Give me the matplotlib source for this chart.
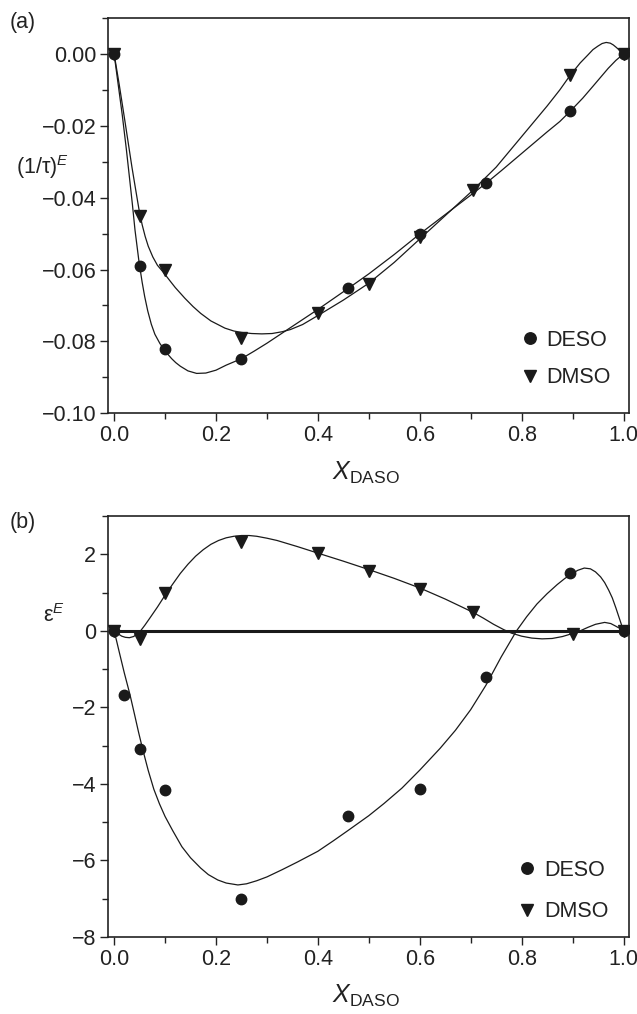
import matplotlib
matplotlib.use("Agg")
import matplotlib.pyplot as plt
from matplotlib.ticker import MultipleLocator, FuncFormatter

plt.rcParams['font.family'] = ['Liberation Sans', 'DejaVu Sans']
plt.rcParams['mathtext.fontset'] = 'custom'
plt.rcParams['mathtext.rm'] = 'Liberation Sans'
plt.rcParams['mathtext.it'] = 'Liberation Sans:italic'
plt.rcParams['mathtext.bf'] = 'Liberation Sans:bold'

# ---------------- Panel (a): (1/tau)^E ----------------
a_deso_x = [0.0, 0.05, 0.10, 0.25, 0.46, 0.60, 0.73, 0.895, 1.0]
a_deso_y = [0.0, -0.059, -0.082, -0.085, -0.065, -0.050, -0.036, -0.016, 0.0]
a_dmso_x = [0.0, 0.05, 0.10, 0.25, 0.40, 0.50, 0.60, 0.705, 0.895, 1.0]
a_dmso_y = [0.0, -0.045, -0.060, -0.079, -0.072, -0.064, -0.051, -0.038, -0.006, 0.0]

a_deso_fit_x = [0.0, 0.008, 0.016, 0.024, 0.031, 0.036, 0.041, 0.045, 0.049, 0.055, 0.060,
                0.066, 0.073, 0.080, 0.090, 0.098, 0.105, 0.113, 0.121, 0.130, 0.145,
                0.162, 0.180, 0.200, 0.220, 0.235, 0.250, 0.275, 0.300, 0.350, 0.400,
                0.460, 0.500, 0.550, 0.600, 0.650, 0.700, 0.730, 0.760, 0.800, 0.850,
                0.875, 0.895, 0.920, 0.940, 0.955, 0.970, 0.985, 1.0]
a_deso_fit_y = [0.0, -0.0085, -0.0170, -0.0265, -0.0355, -0.0420, -0.0490, -0.0535, -0.0580,
                -0.0635, -0.0675, -0.0715, -0.0752, -0.0780, -0.0806, -0.0822, -0.0835,
                -0.0848, -0.0859, -0.0869, -0.0882, -0.0889, -0.0888, -0.0880, -0.0866,
                -0.0857, -0.0848, -0.0827, -0.0805, -0.0758, -0.0711, -0.0652, -0.0612,
                -0.0558, -0.0501, -0.0447, -0.0393, -0.0360, -0.0325, -0.0277, -0.0217,
                -0.0188, -0.0160, -0.0123, -0.0090, -0.0065, -0.0040, -0.0018, 0.0]
a_dmso_fit_x = [0.0, 0.010, 0.021, 0.028, 0.035, 0.042, 0.0485, 0.055, 0.061, 0.067, 0.076,
                0.085, 0.098, 0.110, 0.120, 0.139, 0.155, 0.170, 0.190, 0.2175, 0.235,
                0.250, 0.270, 0.290, 0.310, 0.330, 0.346, 0.370, 0.400, 0.450, 0.500,
                0.550, 0.600, 0.650, 0.700, 0.750, 0.800, 0.850, 0.875, 0.895, 0.915,
                0.930, 0.940, 0.950, 0.958, 0.966, 0.974, 0.980, 0.986, 0.993, 1.0]
a_dmso_fit_y = [0.0, -0.0085, -0.0185, -0.0250, -0.0315, -0.0375, -0.0430, -0.0475, -0.0508,
                -0.0535, -0.0565, -0.0588, -0.0610, -0.0632, -0.0650, -0.0680, -0.0703,
                -0.0722, -0.0743, -0.0763, -0.0771, -0.0775, -0.0778, -0.0779, -0.0778,
                -0.0773, -0.0767, -0.0753, -0.0728, -0.0685, -0.0638, -0.0580, -0.0515,
                -0.0450, -0.0385, -0.0315, -0.0230, -0.0145, -0.0100, -0.0060, -0.0025,
                -0.0003, 0.0012, 0.0022, 0.0029, 0.0032, 0.0030, 0.0025, 0.0018, 0.0009, 0.0]

# ---------------- Panel (b): eps^E ----------------
b_deso_x = [0.0, 0.02, 0.05, 0.10, 0.25, 0.46, 0.60, 0.73, 0.895, 1.0]
b_deso_y = [0.0, -1.68, -3.08, -4.17, -7.0, -4.83, -4.12, -1.21, 1.52, 0.0]
b_dmso_x = [0.0, 0.05, 0.10, 0.25, 0.40, 0.50, 0.60, 0.705, 0.90, 1.0]
b_dmso_y = [0.0, -0.21, 1.0, 2.33, 2.03, 1.57, 1.08, 0.48, -0.08, 0.0]

b_deso_fit_x = [0.0, 0.005, 0.010, 0.020, 0.031, 0.040, 0.048, 0.056, 0.067, 0.078, 0.089,
                0.100, 0.115, 0.133, 0.150, 0.170, 0.185, 0.2035, 0.220, 0.243, 0.260,
                0.280, 0.300, 0.330, 0.360, 0.400, 0.430, 0.460, 0.500, 0.530, 0.565,
                0.600, 0.640, 0.670, 0.700, 0.730, 0.760, 0.790, 0.810, 0.830, 0.850,
                0.870, 0.885, 0.900, 0.910, 0.923, 0.935, 0.945, 0.955, 0.963, 0.971,
                0.978, 0.985, 0.992, 1.0]
b_deso_fit_y = [0.0, -0.27, -0.55, -1.10, -1.66, -2.18, -2.65, -3.09, -3.65, -4.14, -4.52,
                -4.85, -5.22, -5.64, -5.93, -6.20, -6.37, -6.51, -6.59, -6.64, -6.61,
                -6.53, -6.43, -6.24, -6.04, -5.76, -5.49, -5.21, -4.83, -4.51, -4.11,
                -3.64, -3.07, -2.60, -2.06, -1.42, -0.68, 0.0, 0.37, 0.70, 0.97,
                1.21, 1.37, 1.50, 1.58, 1.64, 1.62, 1.54, 1.41, 1.26, 1.06,
                0.86, 0.60, 0.32, 0.0]
b_dmso_fit_x = [0.0, 0.008, 0.015, 0.022, 0.030, 0.038, 0.045, 0.052, 0.060, 0.070, 0.085,
                0.100, 0.115, 0.130, 0.145, 0.160, 0.175, 0.190, 0.205, 0.220, 0.235,
                0.250, 0.265, 0.280, 0.300, 0.320, 0.360, 0.400, 0.450, 0.500, 0.550,
                0.600, 0.650, 0.680, 0.705, 0.725, 0.745, 0.765, 0.780, 0.800, 0.820,
                0.840, 0.860, 0.880, 0.900, 0.915, 0.930, 0.945, 0.963, 0.975, 0.985,
                0.993, 1.0]
b_dmso_fit_y = [0.0, -0.08, -0.14, -0.17, -0.18, -0.15, -0.09, 0.0, 0.14, 0.33, 0.62,
                0.93, 1.22, 1.50, 1.74, 1.95, 2.12, 2.26, 2.36, 2.43, 2.47,
                2.49, 2.49, 2.47, 2.42, 2.36, 2.20, 2.03, 1.82, 1.60, 1.37,
                1.12, 0.83, 0.64, 0.48, 0.33, 0.17, 0.03, -0.06, -0.14, -0.19,
                -0.21, -0.20, -0.15, -0.07, 0.0, 0.09, 0.17, 0.22, 0.19, 0.12,
                0.06, 0.0]

labels = ["DESO", "DMSO"]

FS = 15.5
W, H = 637, 1014
fig = plt.figure(figsize=(W / 100, H / 100), dpi=100)

ax1 = fig.add_axes([108 / W, 1 - 413.3 / H, 520.6 / W, 395.3 / H])
ax2 = fig.add_axes([108 / W, 1 - 937 / H, 520.6 / W, 421 / H])


def make_fmt(nd):
    def f(v, pos):
        if abs(v) < 1e-9:
            v = 0.0
        return (f'{v:.{nd}f}').replace('-', '\u2212')
    return FuncFormatter(f)


def style(ax, ymajor, yminor, nd):
    ax.set_xlim(-0.012, 1.01)
    ax.xaxis.set_major_locator(MultipleLocator(0.2))
    ax.xaxis.set_minor_locator(MultipleLocator(0.1))
    ax.xaxis.set_major_formatter(make_fmt(1))
    ax.yaxis.set_major_locator(MultipleLocator(ymajor))
    ax.yaxis.set_minor_locator(MultipleLocator(yminor))
    ax.yaxis.set_major_formatter(make_fmt(nd))
    ax.tick_params(which='both', direction='out', top=False, right=False,
                   labelsize=FS, width=1.0, color='#222222', labelcolor='#222222')
    ax.tick_params(which='major', length=6, pad=2.5)
    ax.tick_params(which='minor', length=4)
    for s in ax.spines.values():
        s.set_linewidth(1.2)
        s.set_color('#222222')


style(ax1, 0.02, 0.01, 2)
ax1.set_ylim(-0.10, 0.01)
style(ax2, 2, 1, 0)
ax2.set_ylim(-8, 3)

lc = '#1a1a1a'
ms_c, ms_t = 7.5, 8.5

# panel a
ax1.plot(a_deso_fit_x, a_deso_fit_y, color=lc, lw=0.9, zorder=2)
ax1.plot(a_dmso_fit_x, a_dmso_fit_y, color=lc, lw=0.9, zorder=2)
h1, = ax1.plot(a_deso_x, a_deso_y, 'o', color=lc, ms=ms_c, zorder=3, label=labels[0])
h2, = ax1.plot(a_dmso_x, a_dmso_y, 'v', color=lc, ms=ms_t, zorder=3, label=labels[1])

# panel b
xmax2 = ax2.get_xlim()[1]
ax2.hlines(0, 0, xmax2, color=lc, lw=2.2, zorder=1)
ax2.plot(b_deso_fit_x, b_deso_fit_y, color=lc, lw=0.9, zorder=2)
ax2.plot(b_dmso_fit_x, b_dmso_fit_y, color=lc, lw=0.9, zorder=2)
g1, = ax2.plot(b_deso_x, b_deso_y, 'o', color=lc, ms=ms_c, zorder=3, label=labels[0])
g2, = ax2.plot(b_dmso_x, b_dmso_y, 'v', color=lc, ms=ms_t, zorder=3, label=labels[1])

leg_kw = dict(frameon=False, fontsize=FS, handlelength=1.0, handletextpad=0.27,
              borderpad=0, borderaxespad=0, markerscale=1.1, numpoints=1,
              loc='upper left', labelcolor='#222222')
ax1.legend(handles=[h1, h2], labelspacing=0.76, bbox_to_anchor=(0.789, 0.211), **leg_kw)
ax2.legend(handles=[g1, g2], labelspacing=0.95, bbox_to_anchor=(0.785, 0.1835), **leg_kw)

# labels
tc = '#222222'
fig.text(10 / W, 1 - 28 / H, '(a)', fontsize=FS, va='baseline', ha='left', color=tc)
fig.text(10 / W, 1 - 528 / H, '(b)', fontsize=FS, va='baseline', ha='left', color=tc)
fig.text(16 / W, 1 - 174 / H, '(1/τ)$^{E}$', fontsize=FS, va='baseline', ha='left', color=tc)
fig.text(43 / W, 1 - 622 / H, 'ε$^{E}$', fontsize=FS, va='baseline', ha='left', color=tc)
fig.text(366 / W, 1 - 480 / H, r'$X_{\mathrm{DASO}}$', fontsize=18, va='baseline',
         ha='center', color=tc)
fig.text(366 / W, 1 - 1003 / H, r'$X_{\mathrm{DASO}}$', fontsize=18, va='baseline',
         ha='center', color=tc)

fig.savefig('out.png', dpi=100)
